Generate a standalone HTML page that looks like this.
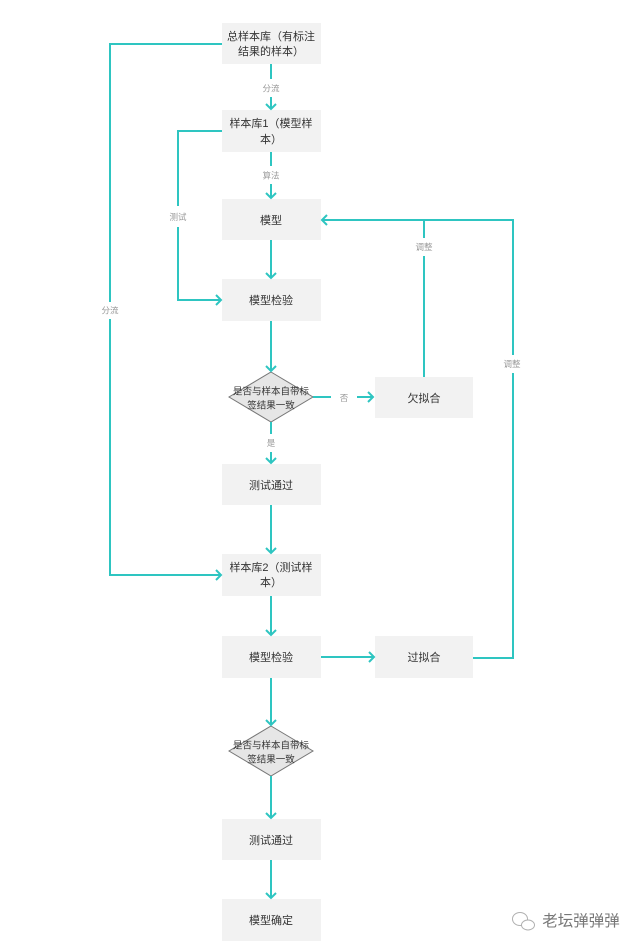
<!DOCTYPE html>
<html lang="zh">
<head>
<meta charset="utf-8">
<style>
html,body{margin:0;padding:0;background:#fff;width:640px;height:948px;overflow:hidden}
svg{display:block;filter:blur(.35px)}
text{font-family:"Liberation Sans","Noto Sans CJK SC",sans-serif;text-anchor:middle}
.b{fill:#f2f2f2}
.t{font-size:11px;fill:#333}
.d{fill:#e6e6e6;stroke:#777;stroke-width:1}
.dt{font-size:9.5px;fill:#333}
.l{font-size:8.5px;fill:#999}
.c{fill:none;stroke:#2ec5c1;stroke-width:2}
.a{fill:none;stroke:#2ec5c1;stroke-width:2}
</style>
</head>
<body>
<svg width="640" height="948" viewBox="0 0 640 948" xmlns="http://www.w3.org/2000/svg">
<!-- boxes -->
<rect class="b" x="222" y="23" width="99" height="41"/>
<rect class="b" x="222" y="110" width="99" height="42"/>
<rect class="b" x="222" y="199" width="99" height="41"/>
<rect class="b" x="222" y="279" width="99" height="42"/>
<rect class="b" x="222" y="464" width="99" height="41"/>
<rect class="b" x="222" y="554" width="99" height="42"/>
<rect class="b" x="222" y="636" width="99" height="42"/>
<rect class="b" x="222" y="819" width="99" height="41"/>
<rect class="b" x="222" y="899" width="99" height="42"/>
<rect class="b" x="375" y="377" width="98" height="41"/>
<rect class="b" x="375" y="636" width="98" height="42"/>
<polygon class="d" points="271,372 313,397 271,422 229,397"/>
<polygon class="d" points="271,726 313,751 271,776 229,751"/>

<!-- connectors -->
<path class="c" d="M271 64V79M271 97V109"/>
<path class="a" d="M266 104L271 109L276 104"/>
<path class="c" d="M271 152V166M271 184V198"/>
<path class="a" d="M266 193L271 198L276 193"/>
<path class="c" d="M271 240V278"/>
<path class="a" d="M266 273L271 278L276 273"/>
<path class="c" d="M271 321V371"/>
<path class="a" d="M266 366L271 371L276 366"/>
<path class="c" d="M271 422V434M271 452V463"/>
<path class="a" d="M266 458L271 463L276 458"/>
<path class="c" d="M271 505V553"/>
<path class="a" d="M266 548L271 553L276 548"/>
<path class="c" d="M271 596V635"/>
<path class="a" d="M266 630L271 635L276 630"/>
<path class="c" d="M271 678V725"/>
<path class="a" d="M266 720L271 725L276 720"/>
<path class="c" d="M271 776V818"/>
<path class="a" d="M266 813L271 818L276 813"/>
<path class="c" d="M271 860V898"/>
<path class="a" d="M266 893L271 898L276 893"/>

<path class="c" d="M222 44H110V302M110 319V575H221"/>
<path class="a" d="M216 570L221 575L216 580"/>
<path class="c" d="M222 131H178V206M178 227V300H221"/>
<path class="a" d="M216 295L221 300L216 305"/>

<path class="c" d="M313 397H331M357 397H373"/>
<path class="a" d="M368 392L373 397L368 402"/>
<path class="c" d="M424 377V256M424 238V220H322"/>
<path class="c" d="M473 658H513V373M513 355V220H322"/>
<path class="a" d="M327 215L322 220L327 225"/>
<path class="c" d="M321 657H374"/>
<path class="a" d="M369 652L374 657L369 662"/>

<!-- box text -->
<text class="t" x="271" y="40">总样本库（有标注</text>
<text class="t" x="271" y="55">结果的样本）</text>
<text class="t" x="271" y="127">样本库1（模型样</text>
<text class="t" x="271" y="143">本）</text>
<text class="t" x="271" y="224">模型</text>
<text class="t" x="271" y="304">模型检验</text>
<text class="t" x="271" y="489">测试通过</text>
<text class="t" x="271" y="571">样本库2（测试样</text>
<text class="t" x="271" y="586">本）</text>
<text class="t" x="271" y="661">模型检验</text>
<text class="t" x="271" y="844">测试通过</text>
<text class="t" x="271" y="924">模型确定</text>
<text class="t" x="424" y="402">欠拟合</text>
<text class="t" x="424" y="661">过拟合</text>
<text class="dt" x="271" y="394.5">是否与样本自带标</text>
<text class="dt" x="271" y="408.5">签结果一致</text>
<text class="dt" x="271" y="748.5">是否与样本自带标</text>
<text class="dt" x="271" y="762.5">签结果一致</text>

<!-- connector labels -->
<text class="l" x="271" y="91.5">分流</text>
<text class="l" x="271" y="178.5">算法</text>
<text class="l" x="178" y="220">测试</text>
<text class="l" x="110" y="313.5">分流</text>
<text class="l" x="344" y="401">否</text>
<text class="l" x="271" y="446">是</text>
<text class="l" x="424" y="250">调整</text>
<text class="l" x="512" y="367">调整</text>

<!-- watermark -->
<g fill="none" stroke="#b0b0b0" stroke-width="1">
<ellipse cx="520" cy="919" rx="7.5" ry="6.5"/>
<ellipse cx="528" cy="925" rx="6.5" ry="5" fill="#fff"/>
</g>
<text x="581" y="926" style="font-size:15.5px;fill:#777">老坛弹弹弹</text>
</svg>
</body>
</html>
